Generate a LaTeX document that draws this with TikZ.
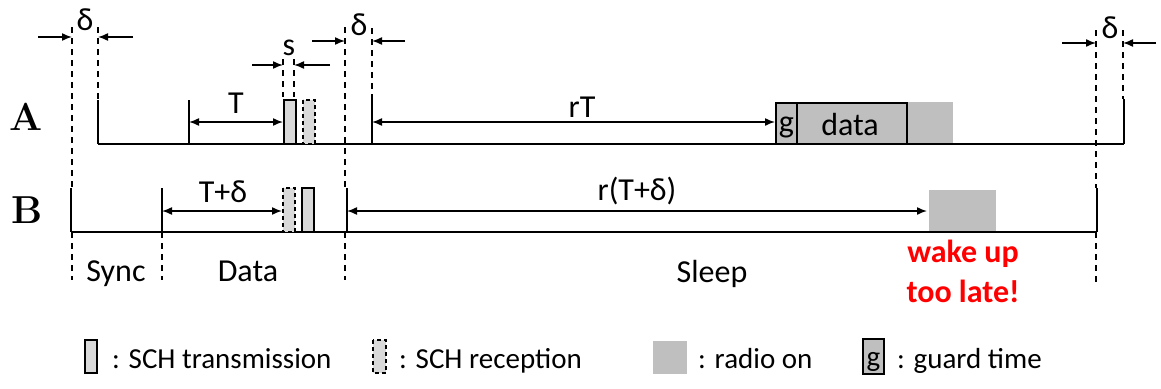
\documentclass[tikz,border=0pt]{standalone}
\usepackage{fontspec}
\newfontfamily\calfont{Carlito}
\usetikzlibrary{arrows.meta}
\definecolor{lgray}{RGB}{217,217,217}
\definecolor{mgray}{RGB}{191,191,191}
\definecolor{wred}{RGB}{255,0,0}
\begin{document}
\begin{tikzpicture}[x=1pt,y=-1pt,
  baseln/.style={line width=2.6pt},
  tick/.style={line width=2pt},
  guide/.style={line width=1.5pt, dash pattern=on 6pt off 5pt},
  dim/.style={line width=1.5pt,-{Latex[length=10pt,width=8pt]}},
  dimd/.style={line width=1.5pt,{Latex[length=10pt,width=8pt]}-{Latex[length=10pt,width=8pt]}},
  lbl/.style={font=\calfont\fontsize{32}{38}\selectfont, anchor=base, inner sep=0pt},
  late/.style={font=\calfont\bfseries\fontsize{32}{38}\selectfont, anchor=base, inner sep=0pt, text=wred},
  row/.style={font=\bfseries\fontsize{39}{44}\selectfont, anchor=base, inner sep=0pt},
  leg/.style={font=\calfont\fontsize{29}{34}\selectfont, anchor=base west, inner sep=0pt},
  txbox/.style={draw, line width=2pt, fill=lgray},
  rxbox/.style={draw, line width=1.8pt, dash pattern=on 4pt off 3pt, fill=lgray},
  radiobox/.style={fill=mgray},
  gbox/.style={draw, line width=2pt, fill=mgray}]
\useasboundingbox (0,0) rectangle (1161,388);

% ---------- guide (dashed) lines ----------
\draw[guide] (72,27) -- (72,188);
\draw[guide] (72,232) -- (72,280);
\draw[guide] (98,27) -- (98,100);
\draw[guide] (162,232) -- (162,280);
\draw[guide] (283,59) -- (283,97);
\draw[guide] (294,59) -- (294,97);
\draw[guide] (345,27) -- (345,188);
\draw[guide] (345,232) -- (345,280);
\draw[guide] (372,28) -- (372,100);
\draw[guide] (1096,30) -- (1096,188);
\draw[guide] (1096,232) -- (1096,282);
\draw[guide] (1123,30) -- (1123,99);

% ---------- row A ----------
\node[row] (labA) at (26,130) {A};
\fill[radiobox] (907,102) rectangle (953,144);
\draw[baseln] (98,144) -- (1124,144);
\draw[tick] (98,100) -- (98,144);
\draw[tick] (189,100) -- (189,144);
\draw[tick] (372,100) -- (372,144);
\draw[tick] (1124,99) -- (1124,144);
\draw[txbox] (284,100) rectangle (296,144);
\draw[rxbox] (303,100) rectangle (315,144);
\draw[gbox] (776,103) rectangle (797,144);
\draw[gbox] (797,103) rectangle (907,144);
\node[lbl] (gA) at (786.5,132) {g};
\node[lbl] (dataA) at (850,135) {data};

\coordinate (aT1) at (189,122);
\coordinate (aT2) at (283,122);
\coordinate (arT1) at (372,122);
\coordinate (arT2) at (775,122);
\draw[dimd] (aT1) -- (aT2);
\draw[dimd] (arT1) -- (arT2);
\node[lbl] (lT) at (236,113) {T};
\node[lbl] (lrT) at (582,117) {rT};

% delta / s markers
\coordinate (d1a) at (38,37); \coordinate (d1b) at (72,37);
\coordinate (d1c) at (133,37); \coordinate (d1d) at (98,37);
\draw[dim] (d1a) -- (d1b);
\draw[dim] (d1c) -- (d1d);
\node[lbl] (ld1) at (85,30) {δ};

\coordinate (sa) at (252,65); \coordinate (sb) at (283,65);
\coordinate (sc) at (330,65); \coordinate (sd) at (294,65);
\draw[dim] (sa) -- (sb);
\draw[dim] (sc) -- (sd);
\node[lbl] (ls) at (289,55) {s};

\coordinate (d2a) at (312,41); \coordinate (d2b) at (345,41);
\coordinate (d2c) at (405,41); \coordinate (d2d) at (372,41);
\draw[dim] (d2a) -- (d2b);
\draw[dim] (d2c) -- (d2d);
\node[lbl] (ld2) at (359,35) {δ};

\coordinate (d3a) at (1062,43); \coordinate (d3b) at (1096,43);
\coordinate (d3c) at (1156,43); \coordinate (d3d) at (1123,43);
\draw[dim] (d3a) -- (d3b);
\draw[dim] (d3c) -- (d3d);
\node[lbl] (ld3) at (1110,38) {δ};

% ---------- row B ----------
\node[row] (labB) at (27,223) {B};
\fill[radiobox] (929,190) rectangle (996,232);
\draw[baseln] (71,232) -- (1097,232);
\draw[tick] (71,188) -- (71,232);
\draw[tick] (162,188) -- (162,232);
\draw[tick] (347,188) -- (347,232);
\draw[tick] (1097,188) -- (1097,232);
\draw[rxbox] (283,188) rectangle (295,232);
\draw[txbox] (302,188) rectangle (314,232);

\coordinate (bT1) at (162,211);
\coordinate (bT2) at (282,211);
\coordinate (brT1) at (347,211);
\coordinate (brT2) at (927,211);
\draw[dimd] (bT1) -- (bT2);
\draw[dimd] (brT1) -- (brT2);
\node[lbl] (lTd) at (223,202) {T+δ};
\node[lbl] (lrTd) at (637,200) {r(T+δ)};

% ---------- phase labels ----------
\node[lbl] (sync) at (116,281) {Sync};
\node[lbl] (datap) at (248,281) {Data};
\node[lbl] (sleep) at (712,282) {Sleep};
\node[late] (wake) at (963,262) {wake up};
\node[late] (toolate) at (963,302) {too late!};

% ---------- legend ----------
\draw[txbox] (85,340) rectangle (97,373);
\node[leg] (legtx) at (112,368) {: SCH transmission};
\draw[rxbox] (373,340) rectangle (386,373);
\node[leg] (legrx) at (399,368) {: SCH reception};
\fill[radiobox] (653,341) rectangle (687,374);
\node[leg] (legradio) at (698,368) {: radio on};
\draw[gbox] (863,339) rectangle (884,374);
\node[font=\calfont\fontsize{29}{34}\selectfont, anchor=base, inner sep=0pt] (legg) at (873.5,366) {g};
\node[leg] (legguard) at (897,368) {: guard time};
\end{tikzpicture}
\end{document}
